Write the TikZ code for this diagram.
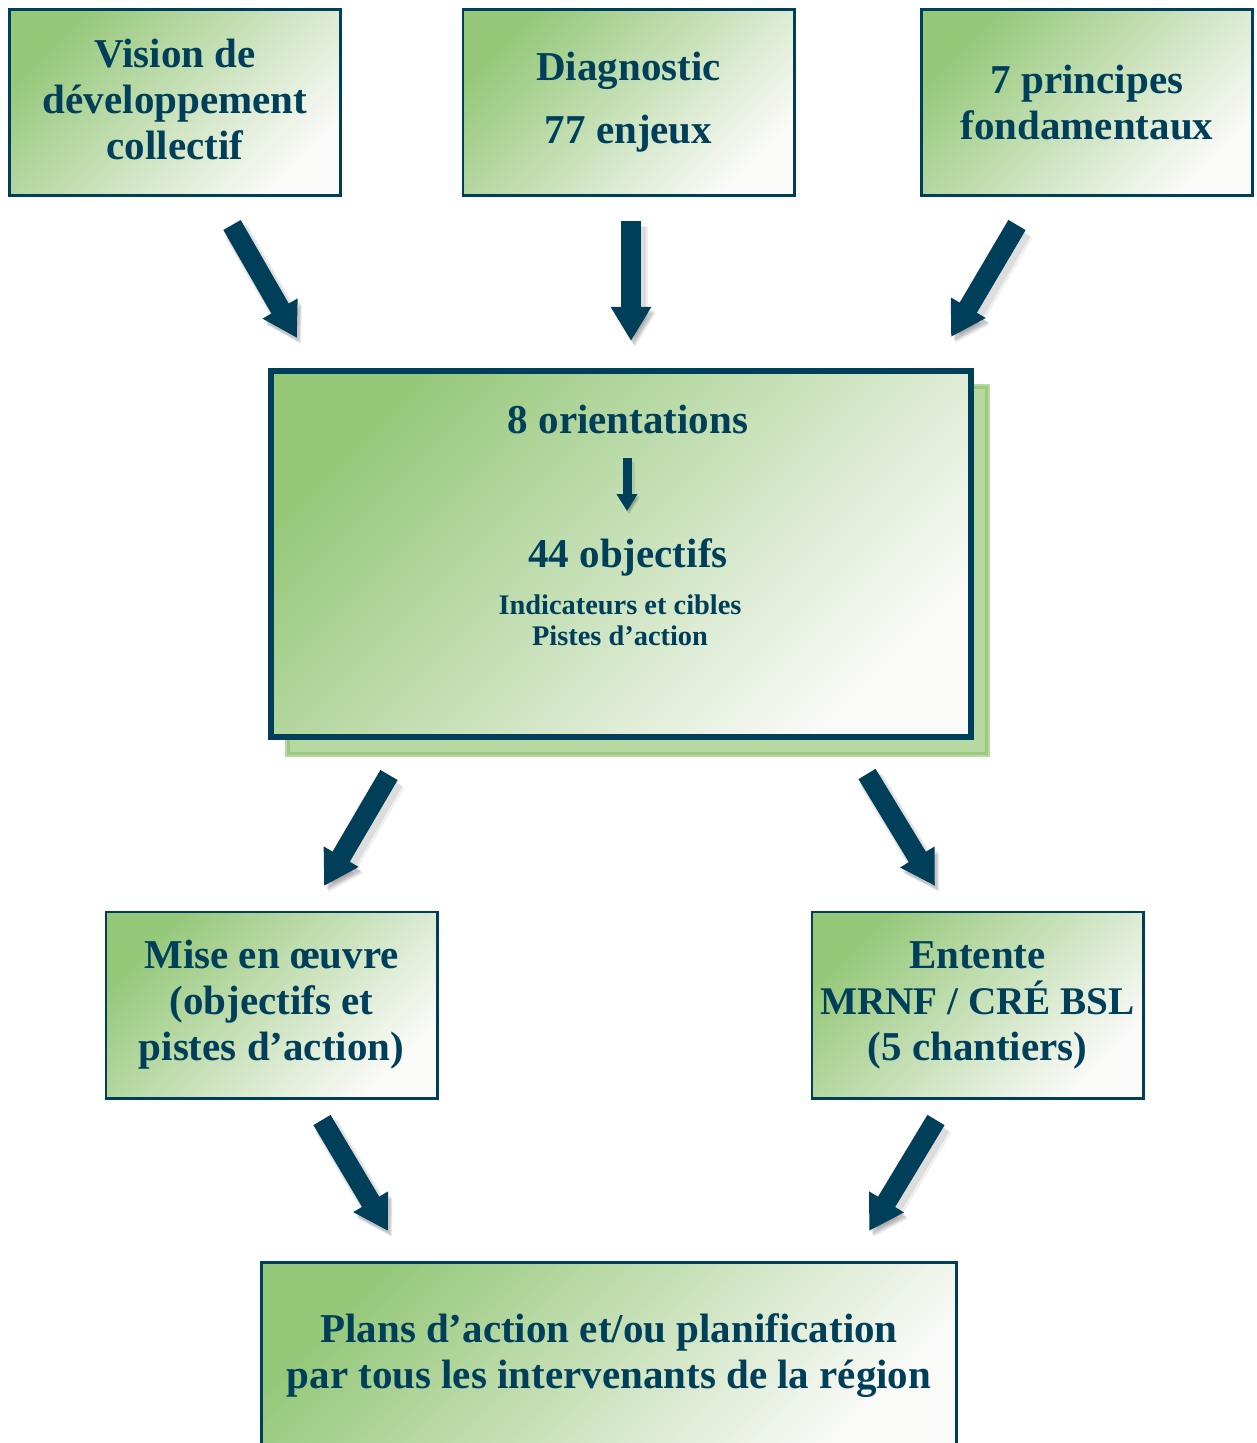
\documentclass[tikz,border=0pt]{standalone}
\usepackage{fontspec}
\setmainfont{Liberation Serif}
\usetikzlibrary{arrows.meta}
\definecolor{navy}{HTML}{003F5A}
\definecolor{boxgreen}{HTML}{96C87A}
\definecolor{boxwhite}{HTML}{FAFAF8}
\definecolor{backfill}{HTML}{B6D9A2}
\definecolor{backline}{HTML}{9CCB80}
\begin{document}
\begin{tikzpicture}[x=0.5pt,y=-0.5pt,
  box/.style={draw=navy, line width=1.4pt, top color=boxgreen, bottom color=boxwhite,
    shading angle=45, inner sep=0pt, align=center, text=navy,
    font=\fontsize{20.5}{23}\selectfont\bfseries},
  txt/.style={text=navy, inner sep=0pt, font=\fontsize{20.5}{23}\selectfont\bfseries},
  smalltxt/.style={text=navy, inner sep=0pt, font=\fontsize{14.2}{16}\selectfont\bfseries},
  bigarrow/.style={draw=navy, line width=10pt, -{Triangle[width=19pt,length=17pt]},
    preaction={draw=black, opacity=0.06, line width=13pt, transform canvas={shift={(2.2pt,-3.2pt)}}},
    preaction={draw=black, opacity=0.08, line width=11.5pt, transform canvas={shift={(1.8pt,-2.6pt)}}},
    preaction={draw=black, opacity=0.10, transform canvas={shift={(1.3pt,-2pt)}}}},
  smallarrow/.style={draw=navy, line width=4.5pt, -{Triangle[width=10pt,length=8.5pt]},
    preaction={draw=black, opacity=0.08, line width=6pt, transform canvas={shift={(1.2pt,-1.8pt)}}},
    preaction={draw=black, opacity=0.12, transform canvas={shift={(0.8pt,-1.2pt)}}}}]
\useasboundingbox (0,0) rectangle (1256,1443);

% top boxes
\node[box, minimum width=165.6pt, minimum height=93.1pt, text depth=3pt] (vision) at (175,102.5)
  {Vision de\\développement\\collectif};
\node[box, minimum width=165.6pt, minimum height=93.1pt] (diag) at (628.5,102.5)
  {Diagnostic\\[8.5pt]77 enjeux};
\node[box, minimum width=165.6pt, minimum height=93.1pt] (princ) at (1087,102.5)
  {7 principes\\fondamentaux};

% central box with back sheet
\fill[backfill] (285,384) rectangle (990,757);
\draw[backline, line width=1.2pt] (288.5,387.5) rectangle (986.5,753.5);
\node[box, line width=3pt, minimum width=350pt, minimum height=183pt] (core) at (621,554) {};
\node[txt, anchor=base] (orient) at (628,433) {8 orientations};
\node[txt, anchor=base] (objec) at (628,567) {44 objectifs};
\node[smalltxt, anchor=base] (indic) at (620,614) {Indicateurs et cibles};
\node[smalltxt, anchor=base] (pistes) at (620,645) {Pistes d’action};
\coordinate (sa1) at (627,458);
\coordinate (sa2) at (627,511);
\draw[smallarrow] (sa1) -- (sa2);

% lower boxes
\node[box, minimum width=165.6pt, minimum height=93.1pt] (mise) at (271.5,1005)
  {Mise en œuvre\\(objectifs et\\pistes d’action)};
\node[box, minimum width=165.6pt, minimum height=93.1pt] (entente) at (977.5,1005)
  {Entente\\{\fontsize{19.6}{23}\selectfont MRNF / CRÉ BSL}\\(5 chantiers)};
\node[box, minimum width=347.6pt, minimum height=93.1pt, anchor=north] (plans) at (609,1261.4)
  {Plans d’action et/ou planification\\par tous les intervenants de la région};

% arrows
\coordinate (a1s) at (232,225);  \coordinate (a1e) at (297,338);
\coordinate (a2s) at (631,221);  \coordinate (a2e) at (631,341);
\coordinate (a3s) at (1017,225); \coordinate (a3e) at (951,337);
\coordinate (a4s) at (389,775);  \coordinate (a4e) at (324,886);
\coordinate (a5s) at (867,774);  \coordinate (a5e) at (935,886);
\coordinate (a6s) at (322,1120); \coordinate (a6e) at (388,1231);
\coordinate (a7s) at (936,1120); \coordinate (a7e) at (869,1231);
\foreach \i in {1,...,7} {\draw[bigarrow] (a\i s) -- (a\i e);}
\end{tikzpicture}
\end{document}
